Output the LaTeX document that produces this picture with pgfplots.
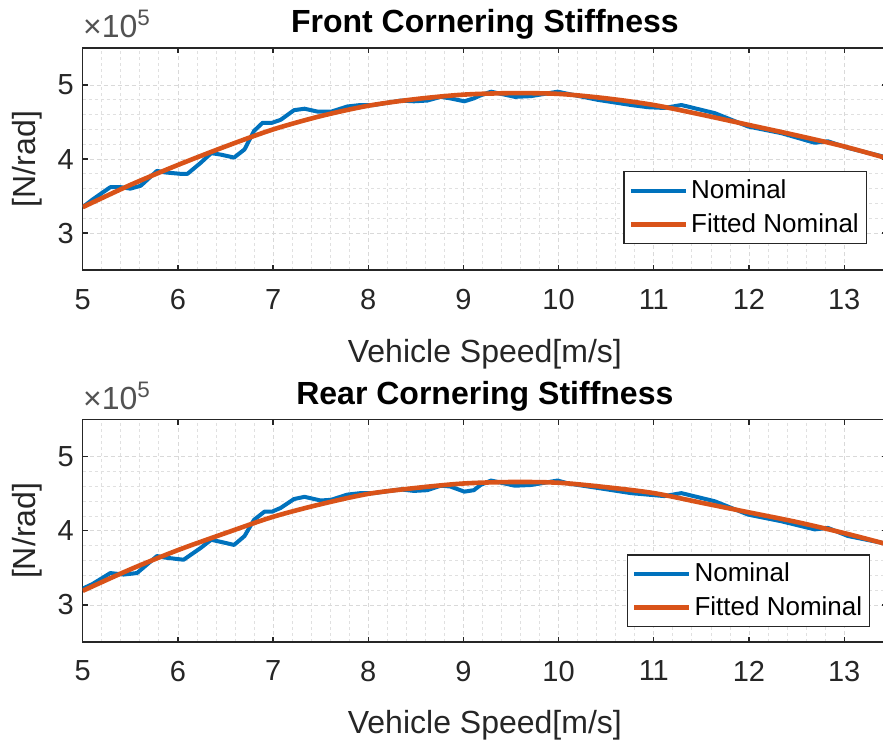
\documentclass[border=0pt]{standalone}
\usepackage{fontspec}
\setmainfont{Liberation Sans}
\usepackage{pgfplots}
\pgfplotsset{compat=1.18}
\definecolor{mblue}{rgb}{0,0.447,0.741}
\definecolor{morange}{rgb}{0.85,0.325,0.098}
\definecolor{axgray}{rgb}{0.15,0.15,0.15}
\pgfplotsset{
  mstyle/.style={
    scale only axis, width=402pt, height=111pt,
    xmin=5, xmax=13.45, ymin=2.5, ymax=5.5,
    xtick={5,...,13}, ytick={3,4,5}, yticklabels={3,4,5},
    minor x tick num=4, minor y tick num=4,
    grid=both,
    major grid style={line width=0.4pt, color=black!15, dash pattern=on 2pt off 1.5pt},
    minor grid style={line width=0.4pt, color=black!12, dash pattern=on 1.5pt off 1.5pt},
    tick align=inside, major tick length=2.5pt, minor tick length=0pt,
    axis line style={axgray, line width=0.6pt},
    every tick/.style={axgray, line width=0.6pt},
    tick label style={font=\fontsize{14.5}{16}\selectfont, text=axgray},
    /pgf/number format/assume math mode=true,
    xticklabel style={yshift=-6pt},
    yticklabel style={xshift=-1pt},
    every axis title shift=0pt,
    title style={font=\fontsize{16}{18}\selectfont\bfseries, at={(axis description cs:0.5,1.0676)}, anchor=base},
    xlabel style={font=\fontsize{16}{18}\selectfont, text=axgray, at={(axis description cs:0.5,-0.4144)}, anchor=base},
    ylabel style={font=\fontsize{16}{18}\selectfont, text=axgray, at={(axis description cs:-0.0684,0.5)}, anchor=center},
    xlabel={Vehicle Speed[m/s]},
    ylabel={[N/rad]},
    legend cell align=left,
    legend image code/.code={\draw[#1] (0pt,0pt) -- (27.5pt,0pt);},
    legend style={draw=axgray, line width=0.6pt, fill=white, font=\fontsize{13}{15}\selectfont,
      inner xsep=2.3pt, inner ysep=2.5pt, row sep=3pt, nodes={inner sep=1.5pt}},
    blueline/.style={mblue, line width=2pt, line join=round},
    orangeline/.style={morange, line width=2.3pt, smooth, line join=round},
  }
}
\begin{document}
\begin{tikzpicture}
\useasboundingbox (-41.35pt,-50.15pt) rectangle (400pt,320.85pt);
% ---------------- Front ----------------
\begin{axis}[mstyle, name=front, at={(0pt,185.85pt)}, anchor=south west,
  title={Front Cornering Stiffness},
  legend style={at={(axis description cs:1,0)}, anchor=south east, xshift=-10pt, yshift=13pt}]
\addplot[blueline] coordinates {
(5.00,3.35) (5.10,3.45) (5.29,3.62) (5.40,3.62) (5.50,3.60) (5.61,3.64) (5.78,3.84) (5.86,3.82)
(6.03,3.80) (6.10,3.80) (6.24,3.95) (6.35,4.08) (6.45,4.06) (6.59,4.02) (6.70,4.13) (6.80,4.38)
(6.89,4.49) (6.99,4.49) (7.08,4.53) (7.22,4.66) (7.33,4.68) (7.47,4.64) (7.61,4.64) (7.78,4.71)
(7.92,4.73) (8.06,4.73) (8.34,4.79) (8.48,4.78) (8.62,4.79) (8.76,4.84) (8.86,4.82) (9.01,4.78)
(9.11,4.82) (9.18,4.86) (9.29,4.91) (9.54,4.84) (9.71,4.85) (9.99,4.91) (10.10,4.88) (10.41,4.80)
(10.76,4.73) (10.94,4.70) (11.11,4.69) (11.29,4.73) (11.64,4.62) (11.99,4.44) (12.34,4.35)
(12.69,4.22) (12.83,4.24) (13.04,4.15) (13.39,4.04) (13.45,4.02)
};
\addlegendentry{Nominal}
\addplot[orangeline] coordinates {
(5.0,3.35) (5.5,3.65) (6.0,3.92) (6.5,4.17) (7.0,4.40) (7.5,4.58) (8.0,4.72) (8.5,4.81)
(9.0,4.87) (9.5,4.89) (10.0,4.88) (10.5,4.82) (11.0,4.73) (11.5,4.60) (12.0,4.46) (12.5,4.32)
(13.0,4.17) (13.45,4.01)
};
\addlegendentry{Fitted Nominal}
\end{axis}
\node[anchor=base west, inner sep=0pt, font=\fontsize{16}{18}\selectfont, text=axgray!80] at ([yshift=5pt]front.north west) {×10\textsuperscript{5}};
% ---------------- Rear ----------------
\begin{axis}[mstyle, name=rear, at={(0pt,0pt)}, anchor=south west,
  title={Rear Cornering Stiffness},
  legend style={at={(axis description cs:1,0)}, anchor=south east, xshift=-8.3pt, yshift=7.3pt}]
\addplot[blueline] coordinates {
(5.00,3.22) (5.10,3.28) (5.29,3.43) (5.43,3.41) (5.57,3.43) (5.78,3.66) (5.86,3.64) (6.06,3.61)
(6.24,3.77) (6.35,3.88) (6.49,3.84) (6.59,3.81) (6.70,3.93) (6.80,4.15) (6.91,4.26) (6.99,4.26)
(7.08,4.31) (7.22,4.43) (7.33,4.46) (7.50,4.41) (7.61,4.42) (7.78,4.49) (7.92,4.51) (8.06,4.51)
(8.34,4.56) (8.48,4.54) (8.62,4.55) (8.76,4.61) (8.86,4.60) (9.01,4.53) (9.11,4.55) (9.18,4.62)
(9.29,4.68) (9.54,4.61) (9.71,4.62) (9.99,4.68) (10.10,4.64) (10.41,4.58) (10.76,4.51)
(11.11,4.47) (11.29,4.51) (11.64,4.40) (11.99,4.22) (12.34,4.13) (12.69,4.02) (12.83,4.04)
(13.04,3.93) (13.39,3.84) (13.45,3.82)
};
\addlegendentry{Nominal}
\addplot[orangeline] coordinates {
(5.0,3.19) (5.5,3.48) (6.0,3.74) (6.5,3.97) (7.0,4.19) (7.5,4.36) (8.0,4.50) (8.5,4.58)
(9.0,4.64) (9.5,4.66) (10.0,4.65) (10.5,4.59) (11.0,4.51) (11.5,4.38) (12.0,4.25) (12.5,4.12)
(13.0,3.97) (13.45,3.82)
};
\addlegendentry{Fitted Nominal}
\end{axis}
\node[anchor=base west, inner sep=0pt, font=\fontsize{16}{18}\selectfont, text=axgray!80] at ([yshift=5pt]rear.north west) {×10\textsuperscript{5}};
\end{tikzpicture}
\end{document}
